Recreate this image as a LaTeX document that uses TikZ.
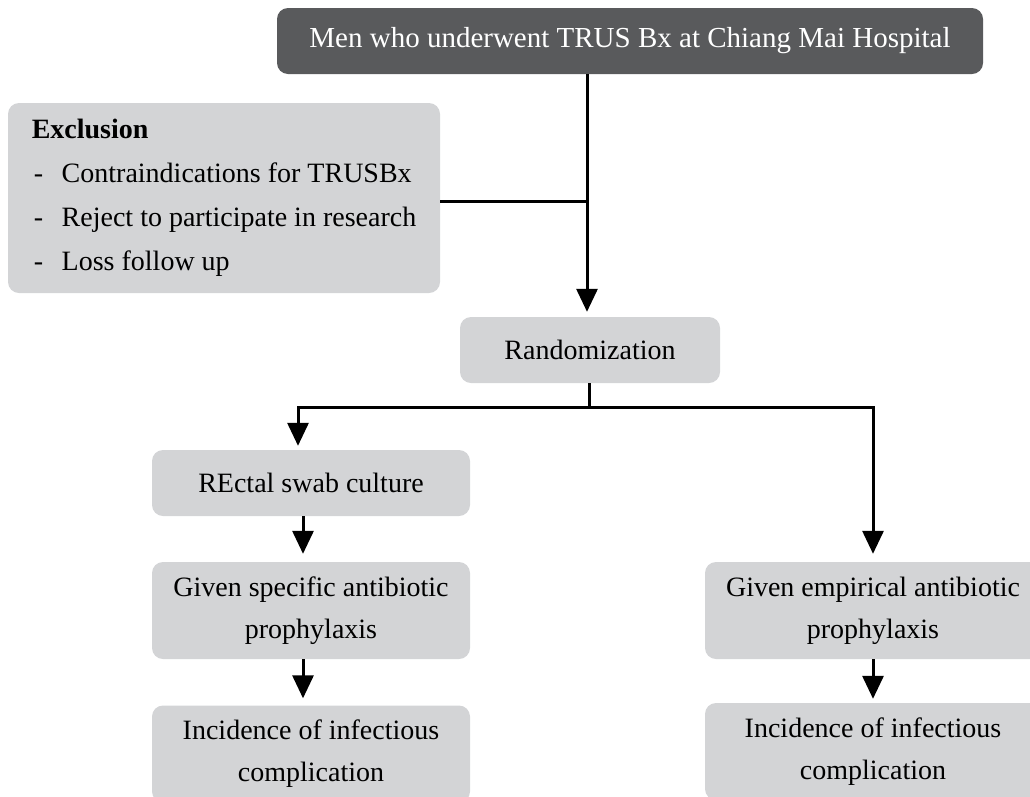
\documentclass[tikz,border=0pt]{standalone}
\usepackage{fontspec}
\setmainfont{Liberation Serif}
\usetikzlibrary{arrows.meta, positioning}
\definecolor{boxdark}{RGB}{89,90,92}
\definecolor{boxlight}{RGB}{211,212,214}

\begin{document}
\begin{tikzpicture}[x=1pt, y=-1pt,
    every node/.style={font=\fontsize{28}{42}\selectfont, inner sep=0pt},
    box/.style={rounded corners=11pt, fill=boxlight, align=center},
    darkbox/.style={rounded corners=11pt, fill=boxdark, text=white, align=center},
    link/.style={line width=3pt},
    arr/.style={link, -{Triangle[length=23pt, width=21pt]}}]
    \useasboundingbox (0,0) rectangle (1030,796);
    \clip (0,0) rectangle (1030,796);

    \node[darkbox, minimum width=706pt, minimum height=66pt, font=\fontsize{29}{42}\selectfont] (men) at (630,41) {Men who underwent TRUS Bx at Chiang Mai Hospital};
    \node[box, align=left, minimum width=432pt, minimum height=190pt, font=\fontsize{28}{44}\selectfont] (excl) at (224,198)
        {\textbf{Exclusion}\\
         \makebox[30pt][l]{\hspace{2pt}-}Contraindications for TRUSBx\\
         \makebox[30pt][l]{\hspace{2pt}-}Reject to participate in research\\
         \makebox[30pt][l]{\hspace{2pt}-}Loss follow up};
    \node[box, minimum width=260pt, minimum height=66pt] (rand) at (590,350) {Randomization};
    \node[box, minimum width=318pt, minimum height=66pt] (rectal) at (311,483) {REctal swab culture};
    \node[box, minimum width=318pt, minimum height=97pt] (spec) at (311,610.5) {Given specific antibiotic\\prophylaxis};
    \node[box, minimum width=318pt, minimum height=97pt] (incl) at (311,754) {Incidence of infectious\\complication};
    \node[box, minimum width=336pt, minimum height=97pt] (empir) at (873,610.5) {Given empirical antibiotic\\prophylaxis};
    \node[box, minimum width=336pt, minimum height=97pt] (incr) at (873,751.5) {Incidence of infectious\\complication};

    % trunk from the cohort down to randomization
    \coordinate (trunk) at (587,201);
    \draw[link] (excl.east |- trunk) -- (trunk);
    \draw[arr, shorten >=5pt] (trunk |- men.south) -- (trunk |- rand.north);

    % two arms
    \coordinate (split) at (589,407);
    \draw[link] (split |- rand.south) -- (split);
    \draw[arr, shorten >=4pt] (split) -| ([xshift=-13pt]rectal.north);
    \draw[arr, shorten >=8pt] (split) -| (empir.north);
    \draw[arr, shorten >=8pt] ([xshift=-8pt]rectal.south) -- ([xshift=-8pt]spec.north);
    \draw[arr, shorten >=7pt] ([xshift=-8pt]spec.south) -- ([xshift=-8pt]incl.north);
    \draw[arr, shorten >=4pt] (empir.south) -- (incr.north);
\end{tikzpicture}
\end{document}
